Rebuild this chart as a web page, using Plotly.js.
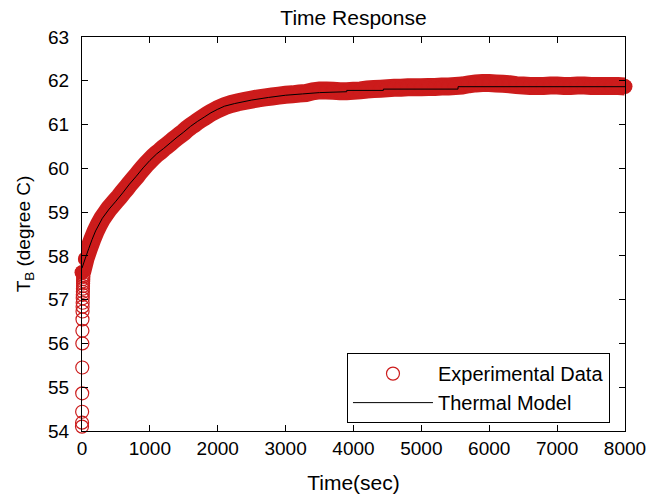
<!DOCTYPE html>
<html>
<head>
<meta charset="utf-8">
<script src="https://cdn.plot.ly/plotly-3.0.1.min.js"></script>
<style>html,body{margin:0;padding:0;background:#fff;}#chart{width:652px;height:499px;}</style>
</head>
<body>
<div id="chart"></div>
<script>
// Start-up transient samples (all near t = 0)
const initT = [0,1,2,3,4,5,6,7,8,9,10,11,12,13,14,15,16,17,18,19,20];
const initV = [54.10,54.19,54.44,54.86,55.45,56.00,56.29,56.55,56.73,56.84,56.93,57.03,57.11,57.18,57.25,57.31,57.37,57.42,57.47,57.52,57.56];

// Experimental data (sec, degree C)
const expT = [0,50,100,150,200,250,300,350,400,450,500,550,600,650,700,750,800,850,900,950,
  1000,1050,1100,1150,1200,1250,1300,1350,1400,1450,1500,1550,1600,1650,1700,1750,1800,1850,1900,1950,
  2000,2100,2200,2300,2400,2500,2600,2700,2800,2900,3000,3100,3200,3300,3400,3500,3600,3700,3800,3900,
  4000,4100,4200,4300,4400,4500,4600,4700,4800,4900,5000,5100,5200,5300,5400,5500,5600,5700,5800,5900,
  6000,6100,6200,6300,6400,6500,6600,6700,6800,6900,7000,7100,7200,7300,7400,7500,7600,7700,7800,7900,8000];
const expV = [57.62,57.93,58.16,58.37,58.56,58.72,58.86,58.97,59.08,59.17,59.26,59.35,59.45,59.54,59.64,59.73,59.82,59.92,60.01,60.10,
  60.18,60.26,60.33,60.39,60.46,60.52,60.58,60.65,60.71,60.77,60.83,60.90,60.96,61.01,61.07,61.12,61.17,61.22,61.27,61.31,
  61.35,61.42,61.47,61.51,61.54,61.57,61.60,61.62,61.64,61.66,61.68,61.69,61.71,61.72,61.76,61.78,61.78,61.77,61.76,61.76,
  61.77,61.78,61.80,61.81,61.82,61.83,61.84,61.84,61.85,61.85,61.85,61.86,61.86,61.87,61.87,61.88,61.89,61.92,61.94,61.95,
  61.95,61.94,61.93,61.92,61.90,61.89,61.88,61.88,61.88,61.89,61.89,61.88,61.88,61.89,61.89,61.88,61.88,61.88,61.88,61.88,61.87];

// Thermal model (sec, degree C)
const modelT = [0,50,100,150,200,300,400,500,600,700,800,900,1000,1100,1200,1300,1400,1500,1600,1700,1800,1900,2000,
  2100,2250,2500,2750,3000,3250,3500,3900,3900,4440,4440,5540,5540,8000];
const modelV = [57.72,57.95,58.17,58.38,58.57,58.86,59.07,59.25,59.44,59.64,59.82,60.01,60.18,60.33,60.45,60.58,60.71,60.83,60.96,61.07,61.17,61.27,61.35,
  61.42,61.48,61.56,61.62,61.67,61.70,61.73,61.75,61.78,61.78,61.81,61.81,61.865,61.865];

const titleText = 'Time Response';
const xTitle = 'Time(sec)';
const yTitle = 'T<sub>B</sub> (degree C)';
const legendNames = ['Experimental Data', 'Thermal Model'];

const red = 'rgb(204,28,28)';
const FONT = 'Liberation Sans, Arial, sans-serif';

const traces = [
  { // dense band of overlapping experimental markers
    x: expT, y: expV, mode: 'lines+markers', showlegend: false, hoverinfo: 'skip',
    cliponaxis: false,
    line: {color: red, width: 18, simplify: false},
    marker: {symbol: 'circle', size: 15, color: red}
  },
  {
    x: initT.concat(expT), y: initV.concat(expV), mode: 'markers', name: legendNames[0],
    cliponaxis: false,
    marker: {symbol: 'circle-open', size: 13, color: red, line: {width: 1.2, color: red}}
  },
  {
    x: modelT, y: modelV, mode: 'lines', name: legendNames[1],
    line: {color: '#000', width: 1, simplify: false}
  }
];

const axisCommon = {
  showline: true, linecolor: '#000', linewidth: 1, mirror: 'ticks',
  ticks: 'inside', ticklen: 6, tickcolor: '#000', tickwidth: 1,
  showgrid: false, zeroline: false,
  tickfont: {family: FONT, size: 19, color: '#000'}
};

const layout = {
  width: 652, height: 499,
  paper_bgcolor: '#fff', plot_bgcolor: '#fff',
  margin: {l: 82, r: 27, t: 37, b: 68},
  font: {family: FONT, color: '#000'},
  title: {text: titleText, font: {family: FONT, size: 21, color: '#000'},
          x: 0.5, xref: 'paper', y: 1 - 18/499, yref: 'container', yanchor: 'middle'},
  xaxis: Object.assign({}, axisCommon, {
    range: [0, 8000], tickvals: [0,1000,2000,3000,4000,5000,6000,7000,8000],
    title: {text: xTitle, font: {family: FONT, size: 21, color: '#000'}, standoff: 17}
  }),
  yaxis: Object.assign({}, axisCommon, {
    range: [54, 63], tickvals: [54,55,56,57,58,59,60,61,62,63], ticklabelstandoff: 8,
    title: {text: yTitle, font: {family: FONT, size: 19, color: '#000'}, standoff: 12}
  }),
  legend: {
    x: 0.488, xanchor: 'left', y: 0.02, yanchor: 'bottom',
    bgcolor: '#fff', bordercolor: '#000', borderwidth: 1,
    font: {family: FONT, size: 20, color: '#000'},
    itemwidth: 80, tracegroupgap: 0
  },
  showlegend: true
};

Plotly.newPlot('chart', traces, layout, {staticPlot: true, displayModeBar: false});
</script>
</body>
</html>
